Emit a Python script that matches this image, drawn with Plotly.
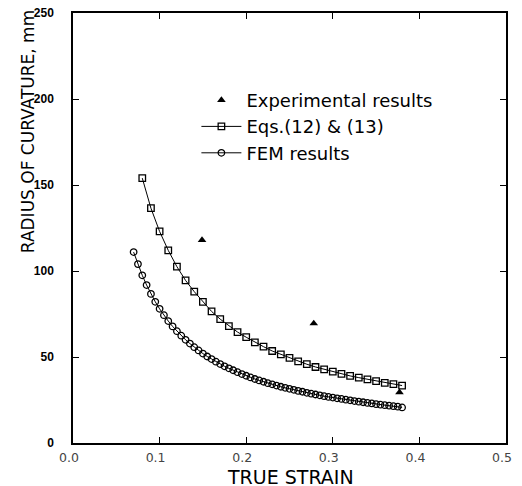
import plotly.graph_objects as go

# ---- data ----
exp_strain = [0.149, 0.278, 0.377]
exp_radius = [118, 69.5, 29.5]

eq_strain = [0.08, 0.09, 0.10, 0.11, 0.12, 0.13, 0.14, 0.15, 0.16, 0.17, 0.18,
             0.19, 0.20, 0.21, 0.22, 0.23, 0.24, 0.25, 0.26, 0.27, 0.28, 0.29,
             0.30, 0.31, 0.32, 0.33, 0.34, 0.35, 0.36, 0.37, 0.38]
eq_radius = [154, 136.5, 123, 112, 102.5, 94.5, 88, 82, 76.5, 72, 68,
             64.5, 61.5, 58.5, 56, 53.5, 51.5, 49.5, 47.5, 45.8, 44.2, 42.8,
             41.5, 40.2, 39, 38, 37, 36, 35, 34.2, 33.4]

fem_strain = [0.070, 0.075, 0.080, 0.085, 0.090, 0.095, 0.100, 0.105, 0.110,
              0.115, 0.120, 0.125, 0.130, 0.135, 0.140, 0.145, 0.150, 0.155,
              0.160, 0.165, 0.170, 0.175, 0.180, 0.185, 0.190, 0.195, 0.200,
              0.205, 0.210, 0.215, 0.220, 0.225, 0.230, 0.235, 0.240, 0.245,
              0.250, 0.255, 0.260, 0.265, 0.270, 0.275, 0.280, 0.285, 0.290,
              0.295, 0.300, 0.305, 0.310, 0.315, 0.320, 0.325, 0.330, 0.335,
              0.340, 0.345, 0.350, 0.355, 0.360, 0.365, 0.370, 0.375, 0.380]
fem_radius = [111, 104, 97.5, 91.8, 86.7, 82.1, 78, 74.3, 70.9,
              67.8, 65, 62.4, 60, 57.8, 55.7, 53.8, 52, 50.3,
              48.8, 47.3, 45.9, 44.6, 43.4, 42.3, 41.2, 40.1, 39.1,
              38.1, 37.2, 36.4, 35.6, 34.8, 34.1, 33.4, 32.7, 32.1,
              31.5, 30.9, 30.3, 29.8, 29.2, 28.7, 28.2, 27.7, 27.2,
              26.8, 26.4, 26.0, 25.6, 25.2, 24.8, 24.4, 24.0, 23.7,
              23.3, 23.0, 22.6, 22.3, 22.0, 21.7, 21.4, 21.1, 20.7]

x_ticks = [0.0, 0.1, 0.2, 0.3, 0.4, 0.5]
y_ticks = [0, 50, 100, 150, 200, 250]

FONT = "DejaVu Sans"

fig = go.Figure()
fig.add_trace(go.Scatter(
    x=exp_strain, y=exp_radius, mode="markers", name="Experimental results",
    marker=dict(symbol="triangle-up", size=7.5, color="black")))
fig.add_trace(go.Scatter(
    x=eq_strain, y=eq_radius, mode="lines+markers", name="Eqs.(12) & (13)",
    line=dict(color="black", width=1),
    marker=dict(symbol="square-open", size=6.5, color="black", line=dict(width=1.3))))
fig.add_trace(go.Scatter(
    x=fem_strain, y=fem_radius, mode="lines+markers", name="FEM results",
    line=dict(color="black", width=1),
    marker=dict(symbol="circle-open", size=6.5, color="black", line=dict(width=1.3))))

axis_common = dict(showline=True, linecolor="black", linewidth=1.5, mirror="ticks",
                   ticks="inside", ticklen=6, tickcolor="black", tickwidth=1.2,
                   showgrid=False, zeroline=False, automargin=False,
                   ticklabeloverflow="allow")

fig.update_xaxes(range=[0, 0.5], tickvals=x_ticks, tickformat=".1f",
                 ticklabelstandoff=2, ticklabelshift=-4,
                 tickfont=dict(family=FONT, size=12.5, color="#444"), **axis_common)
fig.update_yaxes(range=[0, 250], tickvals=y_ticks, ticklabelstandoff=15,
                 tickfont=dict(family="Liberation Sans", size=12, color="black", weight="bold"),
                 **axis_common)

fig.add_annotation(text="TRUE STRAIN", xref="paper", yref="paper",
                   x=0.503, y=-0.078, xanchor="center", yanchor="middle",
                   showarrow=False, font=dict(family=FONT, size=19, color="black"))
fig.add_annotation(text="RADIUS OF CURVATURE, mm", xref="paper", yref="paper",
                   x=-0.104, y=0.725, xanchor="center", yanchor="middle", textangle=-90,
                   showarrow=False, font=dict(family=FONT, size=17, color="black"))

# the page body adds an 8 px margin, so the figure is sized to fit the 522x486 window
fig.update_layout(
    width=514, height=478,
    margin=dict(l=65, r=16, t=5, b=43),
    paper_bgcolor="white", plot_bgcolor="white",
    showlegend=True,
    legend=dict(x=0.285, y=0.84, xanchor="left", yanchor="top",
                bgcolor="rgba(0,0,0,0)", font=dict(family=FONT, size=18, color="black"),
                itemwidth=40, tracegroupgap=0),
)

fig.write_html("out.html")
